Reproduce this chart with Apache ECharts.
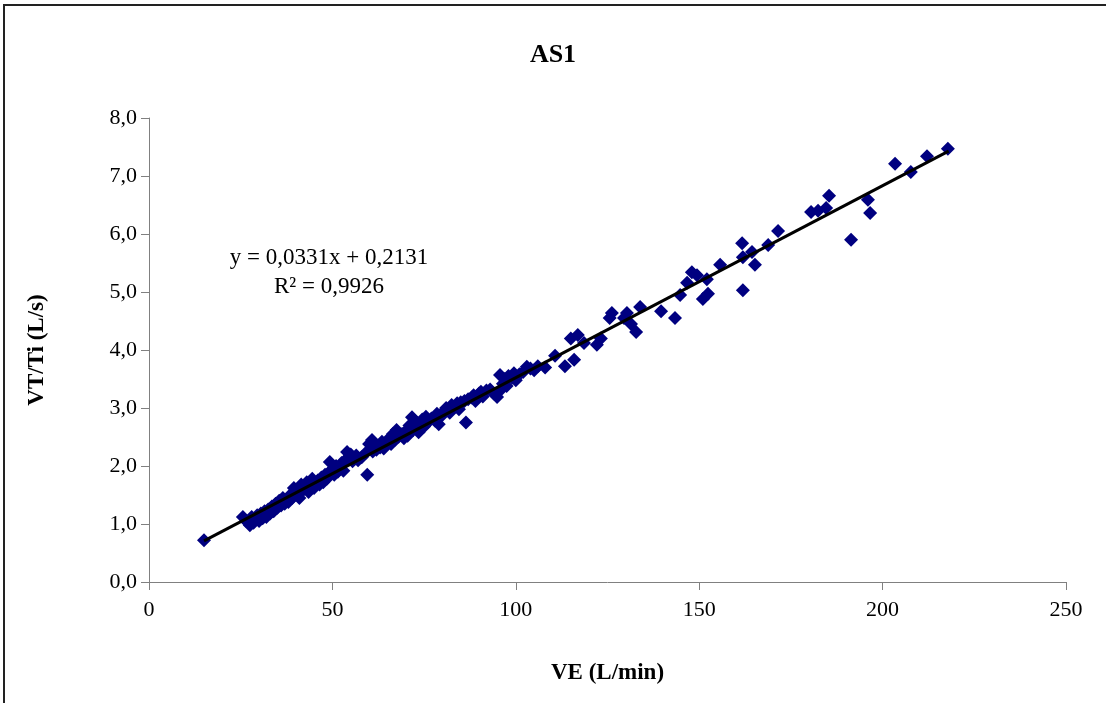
<!DOCTYPE html>
<html>
<head>
<meta charset="utf-8">
<script src="https://cdn.jsdelivr.net/npm/echarts@6/dist/echarts.min.js"></script>
<style>
  html, body { margin: 0; padding: 0; background: #fff; }
  #main { width: 1106px; height: 703px; }
</style>
</head>
<body>
<div id="main"></div>
<script>
// VE (L/min)
var veValues = [
  15, 25.6, 26.5, 27.5, 28, 28.5, 29, 29.5, 30, 30.5, 31, 31.5, 32, 32.5, 33, 33.5,
  34, 34.5, 35, 35.5, 36, 36.5, 37, 37.5, 38, 38.5, 39, 39.5, 40, 40.5, 41, 41.5,
  42, 42.5, 43, 43.5, 44, 44.5, 45, 45.5, 46, 46.5, 47, 47.5, 48, 48.5, 49, 49.3,
  50, 50.5, 51, 51.5, 52, 52.5, 53, 53.5, 54, 54.5, 55, 55.5, 56, 56.5, 57, 58,
  59, 59.5, 60, 60.8, 61, 61.5, 62, 63, 63.5, 64, 65, 65.5, 66, 66.5, 67, 67.5,
  68, 69, 69.5, 70, 70.5, 71, 71.7, 72, 72.5, 73, 73.5, 74, 74.5, 75, 75.5, 76,
  77, 78, 78.5, 79, 80, 80.5, 81, 82, 82.5, 83, 84, 84.5, 85, 86, 86.4, 87,
  88, 88.5, 89, 90, 90.5, 91, 92, 93, 94, 94.9, 95.7, 96, 96.5, 97, 97.5, 98,
  99, 99.5, 100, 101, 102, 103, 104, 105, 106,
  108, 110.7, 113.4, 115, 115.9, 116.9, 118.6, 122.1, 123.2, 125.6, 126.2, 129.5,
  130.3, 131.4, 132.8, 133.9, 139.6, 143.4, 144.8, 146.7, 148, 149.4, 151, 152.1,
  152.4, 155.7, 161.7, 161.9, 161.9, 164.4, 165.2, 168.8, 171.5, 180.5, 182.4,
  184.6, 185.4, 191.4, 196, 196.6, 203.4, 207.7, 212.1, 217.8
];
// VT/Ti (L/s)
var vtTiValues = [
  0.72, 1.12, 1.05, 0.98, 1.12, 1.02, 1.07, 1.15, 1.05, 1.18, 1.10, 1.22, 1.12, 1.25, 1.18, 1.30,
  1.22, 1.35, 1.28, 1.40, 1.32, 1.45, 1.35, 1.42, 1.38, 1.50, 1.45, 1.62, 1.50, 1.55, 1.45, 1.68,
  1.58, 1.62, 1.72, 1.55, 1.65, 1.78, 1.62, 1.70, 1.75, 1.68, 1.80, 1.72, 1.85, 1.78, 1.88, 2.07,
  1.95, 1.85, 2.00, 1.90, 1.95, 2.05, 1.92, 2.10, 2.24, 2.15, 2.20, 2.08, 2.12, 2.18, 2.10, 2.15,
  2.22, 1.85, 2.38, 2.45, 2.25, 2.35, 2.28, 2.32, 2.42, 2.30, 2.40, 2.48, 2.38, 2.55, 2.45, 2.62,
  2.50, 2.55, 2.48, 2.60, 2.52, 2.70, 2.84, 2.62, 2.78, 2.70, 2.58, 2.72, 2.80, 2.68, 2.85, 2.75,
  2.82, 2.78, 2.90, 2.72, 2.88, 2.95, 3.00, 2.92, 3.05, 3.02, 3.08, 2.98, 3.10, 3.12, 2.75, 3.15,
  3.18, 3.22, 3.12, 3.25, 3.28, 3.20, 3.30, 3.32, 3.25, 3.19, 3.57, 3.32, 3.42, 3.50, 3.38, 3.55,
  3.52, 3.60, 3.48, 3.58, 3.62, 3.71, 3.68, 3.65, 3.72,
  3.70, 3.90, 3.72, 4.20, 3.83, 4.26, 4.12, 4.09, 4.20, 4.55, 4.64, 4.55,
  4.64, 4.45, 4.31, 4.74, 4.67, 4.55, 4.95, 5.16, 5.34, 5.29, 4.88, 5.22,
  4.97, 5.47, 5.84, 5.60, 5.03, 5.69, 5.47, 5.81, 6.05, 6.38, 6.40,
  6.45, 6.66, 5.90, 6.59, 6.36, 7.21, 7.07, 7.34, 7.47
];
var xTicks = [0, 50, 100, 150, 200, 250];
var yTicks = [0, 1, 2, 3, 4, 5, 6, 7, 8];

// linear trend shown on the chart
var trendSlope = 0.0331;
var trendIntercept = 0.2131;
var trendRange = [15, 218];

var points = veValues.map(function (v, i) { return [v, vtTiValues[i]]; });
var trendData = trendRange.map(function (x) { return [x, trendSlope * x + trendIntercept]; });

function comma(v) { return v.toFixed(1).replace('.', ','); }

var chart = echarts.init(document.getElementById('main'));
var serif = '"Liberation Serif", "Times New Roman", serif';

var option = {
  backgroundColor: '#fff',
  animation: false,
  title: {
    text: 'AS1',
    left: 'center',
    top: 37,
    textStyle: { fontFamily: serif, fontSize: 26, fontWeight: 'bold', color: '#000' }
  },
  grid: { left: 149, top: 118, width: 917, height: 464 },
  xAxis: {
    type: 'value',
    min: xTicks[0],
    max: xTicks[xTicks.length - 1],
    interval: 50,
    name: 'VE (L/min)',
    nameLocation: 'middle',
    nameGap: 80,
    nameTextStyle: { fontFamily: serif, fontSize: 23, fontWeight: 'bold', color: '#000' },
    axisLine: { show: true, lineStyle: { color: '#808080', width: 1 } },
    axisTick: { show: true, length: 8, lineStyle: { color: '#808080' } },
    axisLabel: { fontFamily: serif, fontSize: 22, color: '#000', margin: 17 },
    splitLine: { show: false }
  },
  yAxis: {
    type: 'value',
    min: yTicks[0],
    max: yTicks[yTicks.length - 1],
    interval: 1,
    name: 'VT/Ti (L/s)',
    nameLocation: 'middle',
    nameGap: 100,
    nameRotate: 90,
    nameTextStyle: { fontFamily: serif, fontSize: 23, fontWeight: 'bold', color: '#000' },
    axisLine: { show: true, lineStyle: { color: '#808080', width: 1 } },
    axisTick: { show: true, length: 8, lineStyle: { color: '#808080' } },
    axisLabel: { fontFamily: serif, fontSize: 22, color: '#000', margin: 12, formatter: comma },
    splitLine: { show: false }
  },
  graphic: [
    {
      type: 'rect',
      shape: { x: 4, y: 5, width: 1300, height: 900 },
      style: { fill: 'none', stroke: '#222', lineWidth: 2 },
      silent: true
    },
    {
      type: 'text',
      x: 329, y: 258,
      style: { text: 'y = 0,0331x + 0,2131', font: '23px ' + serif, fill: '#000', align: 'center', verticalAlign: 'middle' }
    },
    {
      type: 'text',
      x: 329, y: 287,
      style: { text: 'R² = 0,9926', font: '23px ' + serif, fill: '#000', align: 'center', verticalAlign: 'middle' }
    }
  ],
  series: [
    {
      type: 'scatter',
      data: points,
      symbol: 'diamond',
      symbolSize: 14,
      itemStyle: { color: '#000080', opacity: 1 },
      z: 2
    },
    {
      type: 'line',
      data: trendData,
      symbol: 'none',
      lineStyle: { color: '#000', width: 3 },
      z: 3
    }
  ]
};

chart.setOption(option);
</script>
</body>
</html>
